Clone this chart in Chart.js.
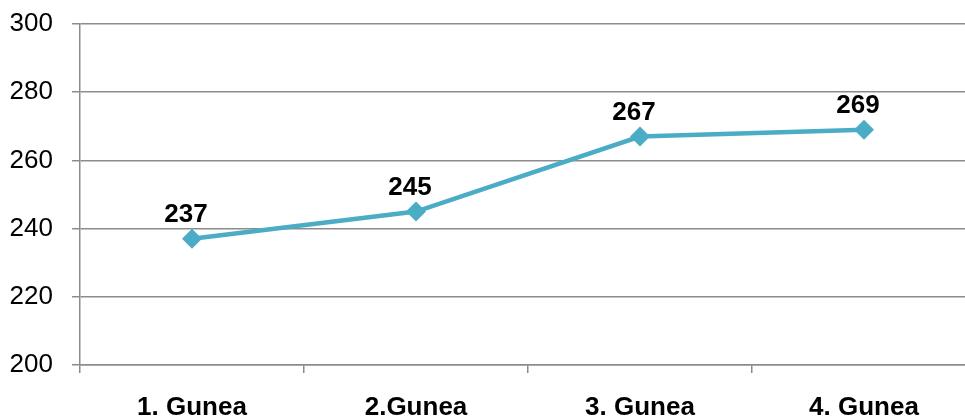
<!DOCTYPE html>
<html>
<head>
<meta charset="utf-8">
<script src="https://cdn.jsdelivr.net/npm/chart.js@4.4.1/dist/chart.umd.min.js"></script>
<style>
  html, body { margin: 0; padding: 0; background: #fff; overflow: hidden; }
  #wrap { width: 986px; height: 416px; }
</style>
</head>
<body>
<div id="wrap"><canvas id="lineChart" width="986" height="416"></canvas></div>
<script>
// chart data
var categories = ["1. Gunea", "2.Gunea", "3. Gunea", "4. Gunea"];
var values = [237, 245, 267, 269];
var yTicks = [200, 220, 240, 260, 280, 300];

var FONT = "'Liberation Sans', Arial, sans-serif";
var GRID = "#8c8c8c";

// draws the value above each point
var valueLabels = {
    id: "valueLabels",
    afterDatasetsDraw: function (chart) {
        var ctx = chart.ctx;
        var meta = chart.getDatasetMeta(0);
        ctx.save();
        ctx.font = "bold 26px " + FONT;
        ctx.fillStyle = "#000";
        ctx.textAlign = "center";
        ctx.textBaseline = "bottom";
        meta.data.forEach(function (pt, i) {
            ctx.fillText(String(values[i]), pt.x - 6, pt.y - 11);
        });
        ctx.restore();
    }
};

var lineChart = new Chart(document.getElementById("lineChart"), {
    type: "line",
    data: {
        labels: categories,
        datasets: [{
            data: values,
            borderColor: "#4bacc6",
            backgroundColor: "#4bacc6",
            borderWidth: 4.5,
            pointStyle: "rectRot",
            pointRadius: 10,
            pointHoverRadius: 10,
            pointBorderWidth: 0,
            tension: 0,
            fill: false
        }]
    },
    plugins: [valueLabels],
    options: {
        responsive: false,
        animation: false,
        devicePixelRatio: 1,
        layout: { padding: { top: 24, right: 0, left: 0, bottom: 0 } },
        plugins: {
            legend: { display: false },
            tooltip: { enabled: false }
        },
        scales: {
            x: {
                offset: true,
                grid: {
                    offset: true,
                    drawOnChartArea: false,
                    drawTicks: true,
                    tickLength: 8,
                    color: GRID,
                    lineWidth: 1.5
                },
                border: { display: true, color: GRID, width: 1.5 },
                ticks: {
                    color: "#000",
                    padding: 19,
                    maxRotation: 0,
                    font: { family: FONT, size: 26, weight: "bold" }
                },
                afterFit: function (scale) { scale.height = 51; }
            },
            y: {
                min: yTicks[0],
                max: yTicks[yTicks.length - 1],
                afterBuildTicks: function (scale) {
                    scale.ticks = yTicks.map(function (v) { return { value: v }; });
                },
                grid: {
                    color: GRID,
                    lineWidth: 1.5,
                    drawTicks: true,
                    tickLength: 8
                },
                border: { display: true, color: GRID, width: 1.5 },
                ticks: {
                    color: "#000",
                    padding: 19,
                    font: { family: FONT, size: 26 }
                },
                afterFit: function (scale) {
                    scale.width = 80;
                    scale.paddingTop = 0;
                    scale.paddingBottom = 0;
                }
            }
        }
    }
});
</script>
</body>
</html>
